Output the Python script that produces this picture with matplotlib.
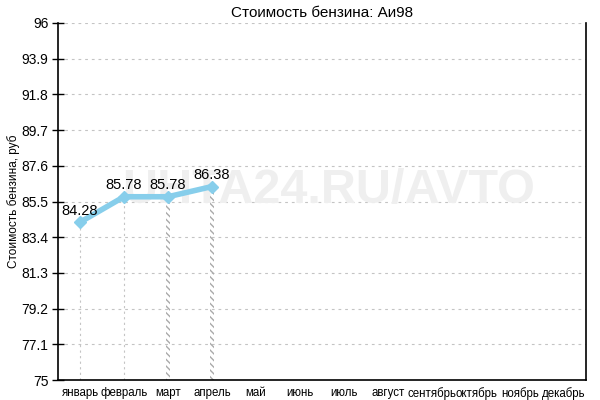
import matplotlib
matplotlib.use("Agg")
import matplotlib.pyplot as plt
import numpy as np

months = ["январь", "февраль", "март", "апрель", "май", "июнь", "июль",
          "август", "сентябрь", "октябрь", "ноябрь", "декабрь"]
prices = [84.28, 85.78, 85.78, 86.38]
hatched = [False, False, True, True]
yticks = [75, 77.1, 79.2, 81.3, 83.4, 85.5, 87.6, 89.7, 91.8, 93.9, 96]

plt.rcParams['font.family'] = ['Liberation Sans', 'DejaVu Sans']
plt.rcParams['hatch.color'] = '#aaaaaa'
plt.rcParams['hatch.linewidth'] = 1.0

fig = plt.figure(figsize=(6, 4), dpi=100)
ax = fig.add_axes([58/600, 1-380/400, 528/600, 357/400])

x = np.arange(len(prices))
ax.set_xlim(-0.5, len(months) - 0.5)
ax.set_ylim(yticks[0], yticks[-1])

for yt in yticks[1:]:
    ax.axhline(yt, color='#c4c4c4', lw=0.8, ls=(0, (2.5, 3.5)), zorder=0)

ax.text(0.513, 0.53, "UHTA24.RU/AVTO", transform=ax.transAxes, ha='center', va='center',
        fontsize=35, fontweight='bold', color='#efefef', zorder=0.5)

for xi, p, h in zip(x, prices, hatched):
    if h:
        ax.bar(xi, p - yticks[0], bottom=yticks[0], width=0.09, fill=False,
               hatch='\\\\\\\\\\', edgecolor='#aaaaaa', linewidth=0, zorder=1)
    else:
        ax.plot([xi, xi], [yticks[0], p], color='#c4c4c4', lw=0.8, ls=(0, (2, 3)), zorder=1)

ax.plot(x, prices, color='#87ceeb', lw=4, marker='D', markersize=6, zorder=3)
for xi, p in zip(x, prices):
    ax.text(xi, p + 0.25, f"{p:.2f}", ha='center', va='bottom', fontsize=10.5, zorder=4)

ax.set_xticks(np.arange(len(months)))
ax.set_xticklabels(months, fontsize=8.3)
ax.set_yticks(yticks)
ax.set_yticklabels([f"{v:g}" for v in yticks], fontsize=10)
ax.tick_params(axis='x', length=0, pad=5)
ax.tick_params(axis='y', direction='inout', length=8, width=1, pad=3)
ax.spines['top'].set_visible(False)
for s in ['left', 'right', 'bottom']:
    ax.spines[s].set_linewidth(1.2)

ax.set_ylabel("Стоимость бензина, руб", fontsize=8.5, labelpad=1)
ax.set_title("Стоимость бензина: Аи98", fontsize=11, pad=4)

fig.savefig("out.png", dpi=100)
